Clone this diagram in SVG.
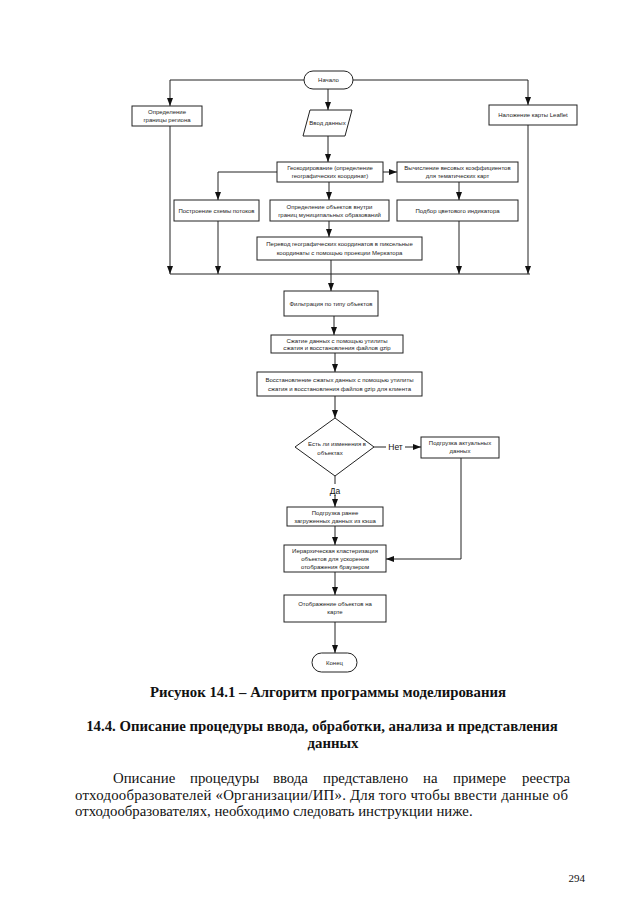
<svg xmlns="http://www.w3.org/2000/svg" width="640" height="904" viewBox="0 0 640 904">
<defs>
<marker id="ah" viewBox="0 0 8 6" refX="8" refY="3" markerWidth="8" markerHeight="6" orient="auto" markerUnits="userSpaceOnUse"><path d="M0,0 L8,3 L0,6 z" fill="#111"/></marker>
<style>
.b{fill:#fff;stroke:#222;stroke-width:1}
.t{font-family:"Liberation Sans",Arial,sans-serif;font-size:6px;fill:#222;text-anchor:middle}
.l{font-family:"Liberation Sans",Arial,sans-serif;font-size:8.5px;fill:#111;text-anchor:middle}
.c path{fill:none;stroke:#222;stroke-width:1}
.a{marker-end:url(#ah)}
.serif{font-family:"Liberation Serif","Times New Roman",serif;fill:#111}
</style>
</defs>
<rect width="640" height="904" fill="#fff"/>
<g class="c" id="connectors">
<path class="a" d="M304,80 H170 V106"/>
<path class="a" d="M353,80 H528 V105"/>
<path class="a" d="M328,89 V110"/>
<path class="a" d="M328,136 V162"/>
<path class="a" d="M383,172 H397"/>
<path class="a" d="M277,172 H218 V200"/>
<path class="a" d="M329,182 V200"/>
<path class="a" d="M459,182 V200"/>
<path class="a" d="M329,221 V237"/>
<path class="a" d="M170,126 V274"/>
<path class="a" d="M218,221 V274"/>
<path class="a" d="M459,221 V274"/>
<path class="a" d="M528,125 V274"/>
<path d="M170,274 H530"/>
<path class="a" d="M331,260 V291"/>
<path class="a" d="M334,316 V335"/>
<path class="a" d="M335,353 V372"/>
<path class="a" d="M335,396 V418"/>
<path d="M374,447 H386"/>
<path class="a" d="M405,447 H421"/>
<path d="M335,476 V484"/>
<path class="a" d="M335,495 V507"/>
<path class="a" d="M335,526 V545"/>
<path class="a" d="M461,458 V559 H386"/>
<path class="a" d="M335,572 V595"/>
<path class="a" d="M335,622 V653"/>
<text class="l" x="395.5" y="450">Нет</text>
<text class="l" x="335" y="494">Да</text>
</g>
<g id="start"><rect class="b" x="304" y="71" width="49" height="18" rx="9"/><text class="t" x="328.5" y="82">Начало</text></g>
<g id="region"><rect class="b" x="132" y="106" width="70" height="20"/><text class="t" x="167" y="114">Определение</text><text class="t" x="167" y="122">границы региона</text></g>
<g id="leaflet"><rect class="b" x="489" y="105" width="88" height="20"/><text class="t" x="533" y="117">Наложение карты Leaflet</text></g>
<g id="input"><path class="b" d="M310,110 H352 L345,136 H303 Z"/><text class="t" x="327.5" y="125">Ввод данных</text></g>
<g id="geocode"><rect class="b" x="277" y="162" width="106" height="20"/><text class="t" x="330" y="170">Геокодирование (определение</text><text class="t" x="330" y="178">географических координат)</text></g>
<g id="weights"><rect class="b" x="397" y="162" width="121" height="20"/><text class="t" x="457.5" y="170">Вычисление весовых коэффициентов</text><text class="t" x="457.5" y="178">для тематических карт</text></g>
<g id="flows"><rect class="b" x="174" y="200" width="85" height="21"/><text class="t" x="216.5" y="212.5">Построение схемы потоков</text></g>
<g id="objects"><rect class="b" x="270" y="200" width="119" height="21"/><text class="t" x="329.5" y="208.5">Определение объектов внутри</text><text class="t" x="329.5" y="216.5">границ муниципальных образований</text></g>
<g id="color"><rect class="b" x="397" y="200" width="121" height="21"/><text class="t" x="457.5" y="212.5">Подбор цветового индикатора</text></g>
<g id="mercator"><rect class="b" x="257" y="237" width="165" height="23"/><text class="t" x="339.5" y="246">Перевод географических координатов в пиксельные</text><text class="t" x="339.5" y="254.5">координаты с помощью проекции Меркатора</text></g>
<g id="filter"><rect class="b" x="284" y="291" width="94" height="25"/><text class="t" x="331" y="305.5">Фильтрация по типу объектов</text></g>
<g id="compress"><rect class="b" x="271" y="335" width="132" height="18"/><text class="t" x="337" y="342.5">Сжатие данных с помощью утилиты</text><text class="t" x="337" y="350">сжатия и восстановления файлов gzip</text></g>
<g id="restore"><rect class="b" x="257" y="372" width="165" height="24"/><text class="t" x="339.5" y="382">Восстановление сжатых данных с помощью утилиты</text><text class="t" x="339.5" y="390.5">сжатия и восстановления файлов gzip для клиента</text></g>
<g id="decision"><path class="b" d="M335,418 L374,447 L335,476 L295,447 Z"/><text class="t" x="337" y="446">Есть ли изменения в</text><text class="t" x="330" y="454.5">объектах</text></g>
<g id="loadnew"><rect class="b" x="421" y="437" width="78" height="21"/><text class="t" x="460" y="445">Подгрузка актуальных</text><text class="t" x="460" y="453">данных</text></g>
<g id="loadcache"><rect class="b" x="287" y="507" width="96" height="19"/><text class="t" x="335" y="514.5">Подгрузка ранее</text><text class="t" x="335" y="522.5">загруженных данных из кэша</text></g>
<g id="cluster"><rect class="b" x="284" y="545" width="102" height="27"/><text class="t" x="335" y="553">Иерархическая кластеризация</text><text class="t" x="335" y="561">объектов для ускорения</text><text class="t" x="335" y="569">отображения браузером</text></g>
<g id="display"><rect class="b" x="284" y="595" width="102" height="27"/><text class="t" x="335" y="606">Отображение объектов на</text><text class="t" x="335" y="614">карте</text></g>
<g id="end"><rect class="b" x="312" y="653" width="45" height="19" rx="9.5"/><text class="t" x="334.5" y="664.5">Конец</text></g>
<g id="page-text">
<text class="serif" x="328" y="697" font-size="14.8" font-weight="bold" text-anchor="middle">Рисунок 14.1  – Алгоритм программы моделирования</text>
<text class="serif" x="322" y="731" font-size="14.8" font-weight="bold" text-anchor="middle">14.4. Описание процедуры ввода, обработки, анализа и представления</text>
<text class="serif" x="333" y="748" font-size="14.8" font-weight="bold" text-anchor="middle">данных</text>
<text class="serif" y="783" font-size="14.8"><tspan x="113">Описание</tspan><tspan x="190">процедуры</tspan><tspan x="273">ввода</tspan><tspan x="323">представлено</tspan><tspan x="423">на</tspan><tspan x="453">примере</tspan><tspan x="522">реестра</tspan></text>
<text class="serif" x="75" y="800" font-size="14.8" textLength="493" lengthAdjust="spacing">отходообразователей «Организации/ИП». Для того чтобы ввести данные об</text>
<text class="serif" x="75" y="816" font-size="14.8">отходообразователях, необходимо следовать инструкции ниже.</text>
<text class="serif" x="585" y="882" font-size="11" text-anchor="end">294</text>
</g>
</svg>
